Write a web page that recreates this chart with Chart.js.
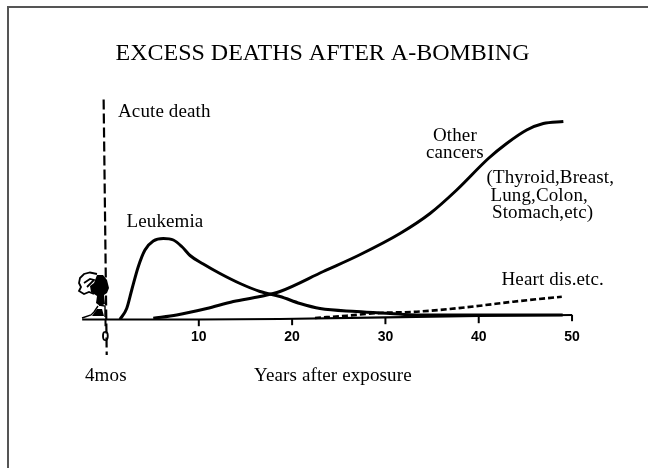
<!DOCTYPE html>
<html><head><meta charset="utf-8">
<style>html,body{margin:0;padding:0;background:#fff;overflow:hidden}#w{position:absolute;left:0;top:0;width:648px;height:468px}canvas{display:block}</style>
<script src="https://cdn.jsdelivr.net/npm/chart.js@4"></script></head>
<body><div id="w"><canvas id="c" width="648" height="468"></canvas></div>
<script>
const chartTitle = "EXCESS DEATHS AFTER A-BOMBING";
const tickYears = [0,10,20,30,40,50];
const tickMarkY = [-3.5,-3.5,-2.5,-1.5,-0.5,1.5];
const acuteX = [-0.2,0.13];
const acuteY = [220,-35.5];
const leukemiaX = [1.55,2.27,2.81,3.52,4.23,5.12,6.2,7.27,8.17,9.06,10.48,12.27,14.42,16.56,18.7,20.85,22.99,26.9,30.5,33.35,41.2,49];
const leukemiaY = [0.2,11,29.5,53,69.5,78.5,81,79.5,73,64,55.5,46,36,28,23,16,11,8,6,4.5,4.5,4.5];
const cancerX = [5.12,7.63,10.85,13.7,16.56,18.7,23.34,27.2,31.56,34.78,37.64,41.03,42.99,45.14,46.92,49.07];
const cancerY = [1.2,4.5,11,18,23,28,48,64.5,86,106,129.5,161,176,189.5,196,198];
const heartX = [22.45,25.85,29.4,33.35,36.57,40.14,43.7,48.9];
const heartY = [1.5,3.8,6.5,7.8,10.2,13.8,17.8,22.8];
const axisLineX = [-2.5,10,18.7,30,40,50];
const axisLineY = [0,0,0.5,2.2,3.5,4.5];
const labelAcute = "Acute death";
const labelLeukemia = "Leukemia";
const labelOther = ["Other","cancers"];
const labelSites = ["(Thyroid,Breast,","Lung,Colon,","Stomach,etc)"];
const labelHeart = "Heart dis.etc.";
const labelStart = "4mos";
const labelXAxis = "Years after exposure";

const toPts = (xs,ys)=>xs.map((x,i)=>({x,y:ys[i]}));
const lineDs = (label,xs,ys,extra)=>Object.assign({label,data:toPts(xs,ys),showLine:true,borderColor:'#000',backgroundColor:'#000',borderWidth:3,pointRadius:0,cubicInterpolationMode:'monotone'},extra||{});

const decor = {
  id:'decor',
  beforeDraw(ch){
    const c=ch.ctx; c.save(); c.fillStyle='#555';
    c.fillRect(7,6,641,2); c.fillRect(7,6,2,462); c.restore();
  },
  afterDatasetsDraw(ch){
    const c=ch.ctx; c.save(); c.fillStyle='#000'; c.strokeStyle='#000';
    // mushroom cloud icon
    c.lineWidth=1.8; c.beginPath();
    c.moveTo(97,274);c.lineTo(90,272.5);c.lineTo(84,274);c.lineTo(80,278);c.lineTo(79,283);c.lineTo(81,287);c.lineTo(79,291);c.lineTo(84,294);c.lineTo(89,292);c.lineTo(94,294);
    c.moveTo(84,283);c.lineTo(90,279);c.lineTo(94,280);c.lineTo(87,287);
    c.stroke();
    c.beginPath();
    c.moveTo(97,275);c.lineTo(103,275);c.lineTo(107,280);c.lineTo(109,288);c.lineTo(107,293);c.lineTo(104,295);c.lineTo(105,304);c.lineTo(100,306);c.lineTo(96,303);c.lineTo(97,296);c.lineTo(91,292);c.lineTo(90,286);c.lineTo(94,283);c.closePath();c.fill();
    c.lineWidth=1.4;
    c.beginPath();c.moveTo(99,305);c.lineTo(105,306);c.lineTo(105,317);c.moveTo(98,306);c.lineTo(94,312);c.lineTo(91,315);c.lineTo(82,318);c.stroke();
    c.beginPath();c.moveTo(92,316);c.lineTo(97,309);c.lineTo(102,309);c.lineTo(104,316);c.closePath();c.fill();
    // text
    c.fillStyle='#000'; c.textBaseline='middle'; c.textAlign='left';
    c.font='19px "Liberation Serif"'; c.letterSpacing='0.12px';
    const t=(s,x,y)=>c.fillText(s,x,y);
    t(labelAcute,118,112);
    t(labelLeukemia,126.5,222);
    t(labelOther[0],433,136);
    t(labelOther[1],426,153);
    t(labelSites[0],486.5,178);
    t(labelSites[1],490.5,196);
    t(labelSites[2],492,213);
    t(labelHeart,501.5,280);
    t(labelStart,85,376);
    t(labelXAxis,254,376);
    c.restore();
  }
};

new Chart(document.getElementById('c'),{
  type:'scatter',
  data:{datasets:[
    lineDs('Acute death',acuteX,acuteY,{borderDash:[10,4],borderWidth:2.2,cubicInterpolationMode:'default',tension:0}),
    lineDs('Axis line',axisLineX,axisLineY,{borderWidth:2.2,cubicInterpolationMode:'default',tension:0}),
    lineDs('Leukemia',leukemiaX,leukemiaY),
    lineDs('Other cancers',cancerX,cancerY),
    lineDs('Heart dis.etc.',heartX,heartY,{borderDash:[6,3],borderWidth:2.6}),
    {label:'Ticks',data:toPts(tickYears,tickMarkY),showLine:false,pointStyle:'line',rotation:90,pointRadius:3.2,pointBorderWidth:2,borderColor:'#000',backgroundColor:'#000'}
  ]},
  options:{
    responsive:false,animation:false,devicePixelRatio:1,
    layout:{autoPadding:false,padding:{left:0,top:0,bottom:0,right:3}},
    plugins:{
      legend:{display:false},tooltip:{enabled:false},
      title:{display:true,text:chartTitle,color:'#000',font:{family:'"Liberation Serif"',size:24,weight:'normal',lineHeight:1},padding:{top:42,bottom:4}}
    },
    scales:{
      x:{type:'linear',min:-11.307,max:57.82,position:{y:0},
        afterBuildTicks(s){s.ticks=tickYears.map(v=>({value:v}));},
        afterFit(s){s.height=0;s.paddingLeft=0;s.paddingRight=0;s.paddingTop=0;s.paddingBottom=0;},
        border:{display:false},grid:{display:false,drawTicks:false},
        ticks:{color:'#000',font:{family:'"Liberation Sans"',size:14,weight:'bold'},padding:9,maxRotation:0,minRotation:0,autoSkip:false,callback:v=>String(v)}},
      y:{type:'linear',min:-148.5,max:249.5,display:false}
    }
  },
  plugins:[decor]
});
</script>
</body></html>
